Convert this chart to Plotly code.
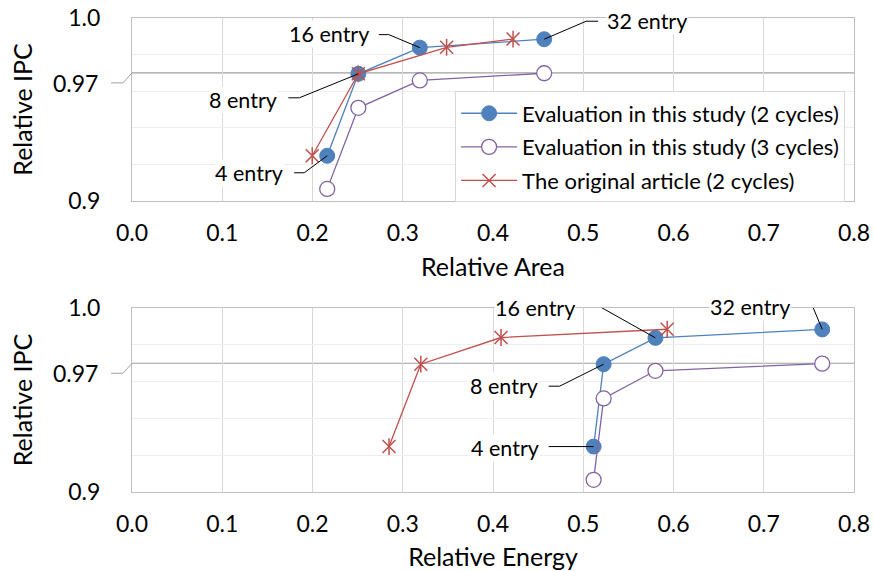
import plotly.graph_objects as go
from plotly.subplots import make_subplots

# ---------------- data ----------------
entries = ["4 entry", "8 entry", "16 entry", "32 entry"]

# Relative IPC (same for both panels)
ipc_2c = [0.9247, 0.9695, 0.9838, 0.9884]
ipc_3c = [0.9066, 0.9509, 0.9659, 0.9698]
ipc_orig = [0.9247, 0.9695, 0.9840, 0.9885]

# Relative Area (top panel)
area_2c = [0.2163, 0.2508, 0.3189, 0.4567]
area_3c = [0.2163, 0.2508, 0.3189, 0.4567]
area_orig = [0.1997, 0.2508, 0.3486, 0.4222]

# Relative Energy (bottom panel)
energy_2c = [0.5115, 0.5226, 0.5800, 0.7648]
energy_3c = [0.5115, 0.5226, 0.5800, 0.7648]
energy_orig = [0.2848, 0.3200, 0.4089, 0.5930]

series_names = ["Evaluation in this study (2 cycles)",
                "Evaluation in this study (3 cycles)",
                "The original article (2 cycles)"]

x_ticks = [0.0, 0.1, 0.2, 0.3, 0.4, 0.5, 0.6, 0.7, 0.8]
y_grid = [0.90, 0.92, 0.94, 0.96, 0.98, 1.00]
y_text = ["0.9", "", "", "", "", "1.0"]
y_special = 0.97

# ---------------- style ----------------
FONT = "Lato"
BLUE = "#4F81BD"
PURPLE = "#8064A2"
RED = "#C0504D"

fig = make_subplots(rows=2, cols=1, vertical_spacing=0.226)
fig.update_layout(template="none")

panels = [
    (1, area_2c, area_3c, area_orig, "Relative Area"),
    (2, energy_2c, energy_3c, energy_orig, "Relative Energy"),
]

for row, x2, x3, xo, title in panels:
    show = row == 1
    fig.add_trace(go.Scatter(
        x=x2, y=ipc_2c, mode="lines+markers", name=series_names[0],
        legendgroup="a", showlegend=show,
        line=dict(color=BLUE, width=1.3),
        marker=dict(symbol="circle", size=15, color=BLUE, line=dict(color=BLUE, width=1))),
        row=row, col=1)
    fig.add_trace(go.Scatter(
        x=x3, y=ipc_3c, mode="lines+markers", name=series_names[1],
        legendgroup="b", showlegend=show,
        line=dict(color=PURPLE, width=1.3),
        marker=dict(symbol="circle", size=15, color="white", line=dict(color=PURPLE, width=1.3))),
        row=row, col=1)
    fig.add_trace(go.Scatter(
        x=xo, y=ipc_orig, mode="lines+markers", name=series_names[2],
        legendgroup="c", showlegend=show,
        line=dict(color=RED, width=1.3),
        marker=dict(symbol="x-thin-open", size=13, color=RED, line=dict(color=RED, width=1.5))),
        row=row, col=1)
    fig.add_trace(go.Scatter(
        x=xo, y=ipc_orig, mode="markers", showlegend=False, hoverinfo="skip",
        marker=dict(symbol="line-ns-open", size=12, color=RED, line=dict(color=RED, width=1.5))),
        row=row, col=1)

    fig.update_xaxes(row=row, col=1, range=[0, 0.8], tickvals=x_ticks,
                     ticktext=[f"{v:.1f}" for v in x_ticks],
                     showgrid=True, gridcolor="#d9d9d9", gridwidth=1,
                     showline=True, linecolor="#bfbfbf", mirror=True, linewidth=1,
                     zeroline=False, ticks="", ticklabelstandoff=11,
                     tickfont=dict(family=FONT, size=23, color="#000"),
                     title=dict(text=title, standoff=13,
                                font=dict(family=FONT, size=25, color="#000")),
                     automargin=False)
    fig.update_yaxes(row=row, col=1, range=[0.9, 1.0], tickvals=y_grid, ticktext=y_text,
                     showgrid=True, gridcolor="#eeeeee", gridwidth=1,
                     showline=True, linecolor="#bfbfbf", mirror=True, linewidth=1,
                     zeroline=False, ticks="", ticklabelstandoff=26,
                     tickfont=dict(family=FONT, size=23, color="#000"),
                     title=dict(text="Relative IPC", standoff=28,
                                font=dict(family=FONT, size=25, color="#000")),
                     automargin=False)

shapes = []
annotations = []
for row in (1, 2):
    yr = "y" if row == 1 else "y2"
    # darker line at 0.97
    shapes.append(dict(type="line", xref="paper", yref=yr, x0=0, x1=1, y0=y_special, y1=y_special,
                       line=dict(color="#a0a0a0", width=1.2), layer="below"))
    # displaced 0.97 label with leader
    annotations.append(dict(text="0.97", xref="paper", yref=yr, x=0, y=y_special,
                            xanchor="right", yanchor="middle", xshift=-32, yshift=-10,
                            showarrow=False, font=dict(family=FONT, size=23, color="#000")))
    shapes.append(dict(type="path", xref="paper", yref=yr, xsizemode="pixel", ysizemode="pixel",
                       xanchor=0, yanchor=y_special, path="M-21,-10 L-9,-10 L0,0",
                       line=dict(color="#a0a0a0", width=1)))

# entry labels: (index, text anchor, text dx, text dy, leader path in px relative to point)
top_labels = [
    (0, "right", -43, -17, "M-33,-17 L-23,-17 L0,0"),
    (1, "right", -80, -26, "M-70,-24 L-59,-24 L0,0"),
    (2, "right", -50, 14, "M-41,13 L-31,13 L0,0"),
    (3, "left", 62, 18, "M54,18 L42,18 L0,0"),
]
bot_labels = [
    (0, "right", -54, -1, "M-45,0 L0,0"),
    (1, "right", -65, -22, "M-55,-22 L-44,-22 L0,0"),
    (2, "right", -79, 30, "M-69,32 L-57,32 L0,0"),
    (3, "right", -31, 22, "M-22,24 L-10,24 L0,0"),
]
for row, xs, labels in ((1, area_2c, top_labels), (2, energy_2c, bot_labels)):
    xr = "x" if row == 1 else "x2"
    yr = "y" if row == 1 else "y2"
    for i, anchor, dx, dy, path in labels:
        shapes.append(dict(type="path", xref=xr, yref=yr, xsizemode="pixel", ysizemode="pixel",
                           xanchor=xs[i], yanchor=ipc_2c[i], path=path,
                           line=dict(color="black", width=1), layer="above"))
        annotations.append(dict(text=entries[i], xref=xr, yref=yr, x=xs[i], y=ipc_2c[i],
                                xanchor=anchor, yanchor="middle", xshift=dx, yshift=dy,
                                showarrow=False, bgcolor="white", borderpad=0,
                                font=dict(family=FONT, size=21.5, color="#000")))

fig.update_layout(
    width=874, height=571,
    margin=dict(l=132, r=20, t=18, b=79),
    paper_bgcolor="white", plot_bgcolor="white",
    font=dict(family=FONT, size=21.5, color="#000"),
    showlegend=True,
    legend=dict(x=0.4475, y=0.845, xanchor="left", yanchor="top",
                bgcolor="white", bordercolor="#d9d9d9", borderwidth=1,
                font=dict(family=FONT, size=22, color="#000"),
                itemwidth=56, tracegroupgap=2),
    shapes=shapes, annotations=annotations,
)
fig.update_yaxes(domain=[0.614, 1.0], row=1, col=1)
fig.update_yaxes(domain=[0.0, 0.388], row=2, col=1)

fig.write_html("out.html")
